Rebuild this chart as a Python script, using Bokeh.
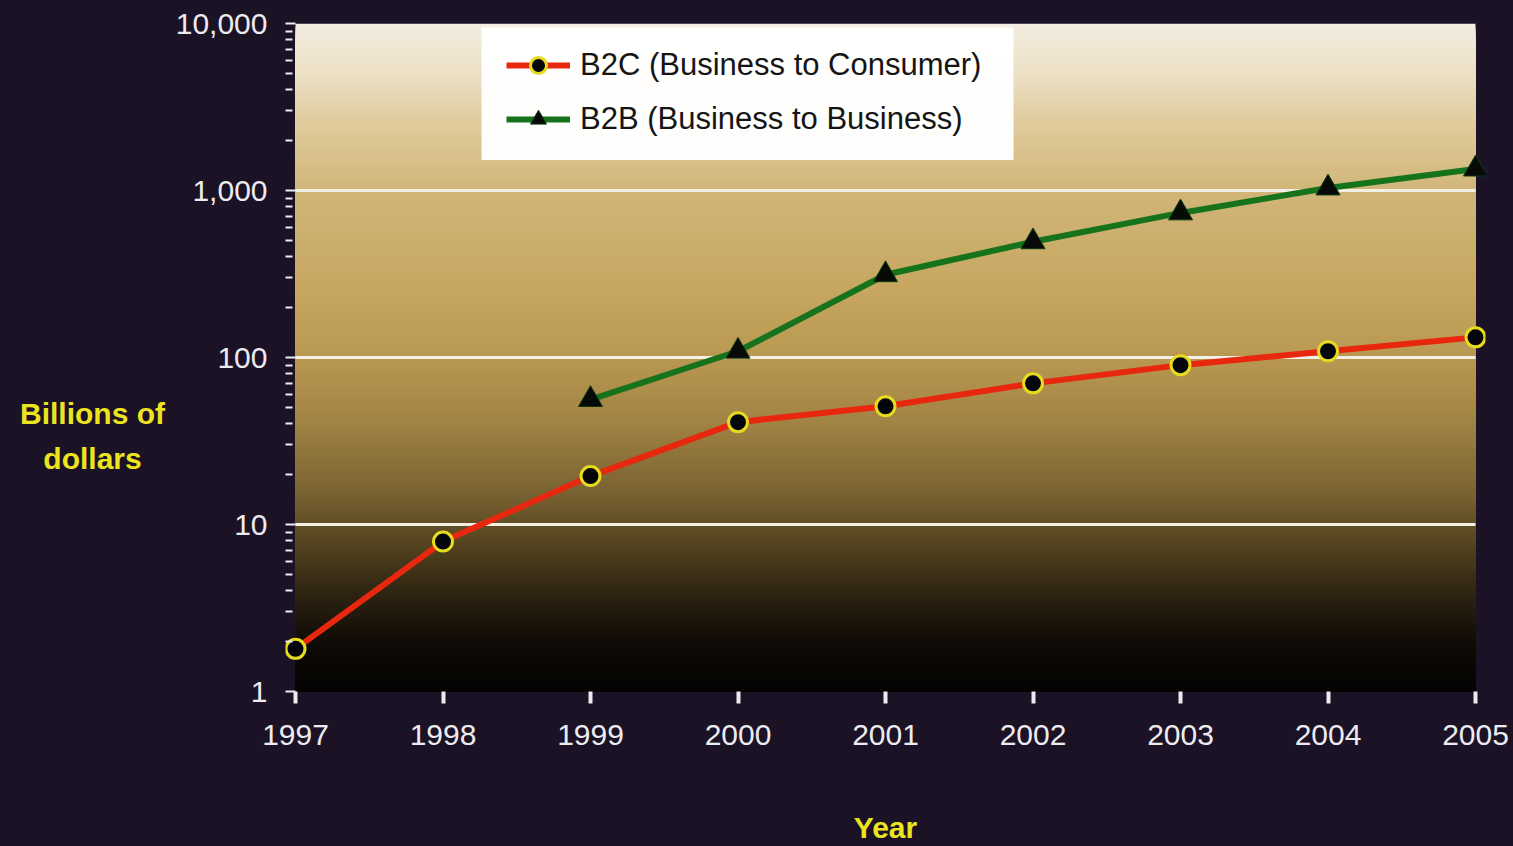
import numpy as np
from bokeh.plotting import figure
from bokeh.layouts import row
from bokeh.models import (Range1d, FixedTicker, NumeralTickFormatter, Legend,
                          LegendItem, BoxAnnotation)
from bokeh.core.properties import value
from bokeh.embed import file_html
from bokeh.resources import INLINE

# ---------------- data ----------------
years = [1997, 1998, 1999, 2000, 2001, 2002, 2003, 2004, 2005]
b2c_years = [1997, 1998, 1999, 2000, 2001, 2002, 2003, 2004, 2005]
b2c_values = [1.8, 7.9, 19.5, 41, 51, 70, 90, 109, 132]
b2b_years = [1999, 2000, 2001, 2002, 2003, 2004, 2005]
b2b_values = [56, 109, 313, 493, 734, 1035, 1344]
y_major = [1, 10, 100, 1000, 10000]
y_grid = [10, 100, 1000]
series_labels = ["B2C (Business to Consumer)", "B2B (Business to Business)"]
y_title_lines = ["Billions of", "dollars"]
x_title = "Year"

# ---------------- layout ----------------
W, H = 1513, 846
SIDE_W = 170                      # left panel holding the y title
FRAME_L, FRAME_R, FRAME_T, FRAME_B = 285, 1485, 23, 693
pad_px = 10
frame_w = FRAME_R - FRAME_L
ext = pad_px * 8 / (frame_w - 2 * pad_px)
x0, x1 = years[0], years[-1]

BG = "#1b1226"
FONT = "Liberation Sans"
YELLOW = "#ece41e"
TICK_COL = "#ebebf0"
BG_STYLE = {"background-color": BG}

# ---------------- left panel with the y title ----------------
side = figure(width=SIDE_W, height=H, output_backend="svg", toolbar_location=None,
              x_range=Range1d(0, SIDE_W), y_range=Range1d(FRAME_B, FRAME_T),
              x_axis_location=None, y_axis_location=None,
              min_border_left=0, min_border_right=0, min_border_top=FRAME_T,
              min_border_bottom=H - FRAME_B, styles=BG_STYLE)
side.background_fill_color = BG
side.border_fill_color = BG
side.outline_line_color = None
side.xgrid.visible = False
side.ygrid.visible = False
side.text(x=[92, 92], y=[414, 459], text=y_title_lines, text_align="center",
          text_baseline="middle", text_font=value(FONT), text_font_style="bold",
          text_font_size="30px", text_color=YELLOW)

# ---------------- main chart ----------------
p = figure(width=W - SIDE_W, height=H, output_backend="svg", toolbar_location=None,
           x_range=Range1d(x0 - ext, x1 + ext), y_range=Range1d(1, 10000),
           y_axis_type="log",
           min_border_left=FRAME_L - SIDE_W, min_border_right=W - FRAME_R,
           min_border_top=FRAME_T, min_border_bottom=H - FRAME_B, styles=BG_STYLE)
p.background_fill_color = BG
p.border_fill_color = BG
p.outline_line_color = None
p.xgrid.visible = False
p.ygrid.visible = False

px_per_year = (frame_w - 2 * pad_px) / 8
px_per_dec = (FRAME_B - FRAME_T) / 4
def dx(px):
    return x0 + (px - (FRAME_L + pad_px)) / px_per_year
def dy(py):
    return 10 ** ((FRAME_B - py) / px_per_dec)

# gradient background of the plot area
stops_f = [0.00, 0.08, 0.15, 0.25, 0.40, 0.50, 0.60, 0.70, 0.78, 0.86, 0.93, 1.00]
stops_c = ["#f4eee2", "#ebdfc2", "#dfcb9c", "#d1b679", "#c6a660", "#b99851",
           "#a08243", "#7a6332", "#54431f", "#2a2110", "#0e0a05", "#040302"]
def hex2rgb(h):
    return np.array([int(h[i:i + 2], 16) for i in (1, 3, 5)], dtype=float)
rgbs = np.array([hex2rgb(c) for c in stops_c])
N = 170
edges = np.linspace(4, 0, N + 1)
tops, cols = [], []
for i in range(N):
    f = (i + 0.5) / N
    rgb = [np.interp(f, stops_f, rgbs[:, k]) for k in range(3)]
    cols.append("#%02x%02x%02x" % tuple(int(round(v)) for v in rgb))
    tops.append(10 ** edges[i])
p.quad(left=x0, right=x1, top=tops, bottom=1, fill_color=cols, line_color=None)

# grid lines
p.segment(x0=[x0] * len(y_grid), x1=[x1] * len(y_grid), y0=y_grid, y1=y_grid,
          line_color="#f4efe4", line_width=3)

# series
RED = "#e8280e"
GREEN = "#17731b"
b2b_line = p.line(b2b_years, b2b_values, line_color=GREEN, line_width=6)
b2b_pts = p.scatter(b2b_years, b2b_values, marker="triangle", size=24,
                    fill_color="#080a08", line_color="#0b3a0e", line_width=1)
b2c_line = p.line(b2c_years, b2c_values, line_color=RED, line_width=6)
b2c_pts = p.scatter(b2c_years, b2c_values, marker="circle", size=19,
                    fill_color="#05050c", line_color="#e6dc1e", line_width=3)

# axes
xa = p.xaxis[0]
xa.ticker = FixedTicker(ticks=years, minor_ticks=[])
xa.major_label_overrides = {y: str(y) for y in years}
xa.axis_line_color = None
xa.major_tick_in = 0
xa.major_tick_out = 12
xa.major_tick_line_width = 4
xa.major_tick_line_color = TICK_COL
xa.major_label_text_font = FONT
xa.major_label_text_font_size = "30px"
xa.major_label_text_color = TICK_COL
xa.major_label_standoff = 21
xa.axis_label = x_title
xa.axis_label_text_font = FONT
xa.axis_label_text_font_style = "bold"
xa.axis_label_text_font_size = "30px"
xa.axis_label_text_color = YELLOW
xa.axis_label_standoff = 63

ya = p.yaxis[0]
minor = [k * 10 ** d for d in range(4) for k in range(2, 10)]
ya.ticker = FixedTicker(ticks=y_major, minor_ticks=minor)
ya.formatter = NumeralTickFormatter(format="0,0")
ya.axis_line_color = None
ya.major_tick_in = 10
ya.major_tick_out = 0
ya.major_tick_line_width = 2
ya.major_tick_line_color = TICK_COL
ya.minor_tick_in = 7
ya.minor_tick_out = 0
ya.minor_tick_line_width = 2
ya.minor_tick_line_color = TICK_COL
ya.major_label_text_font = FONT
ya.major_label_text_font_size = "30px"
ya.major_label_text_color = TICK_COL
ya.major_label_standoff = 18

# legend: white box + items
p.add_layout(BoxAnnotation(left=dx(481), right=dx(1013), top=dy(27), bottom=dy(160),
                           fill_color="white", fill_alpha=0.97, line_color=None))
legend = Legend(items=[LegendItem(label=series_labels[0], renderers=[b2c_line, b2c_pts]),
                       LegendItem(label=series_labels[1], renderers=[b2b_line, b2b_pts])],
                location=(506 - FRAME_L, FRAME_B - 141))
legend.background_fill_alpha = 0
legend.border_line_color = None
legend.padding = 0
legend.margin = 0
legend.label_text_font = FONT
legend.label_text_font_size = "31px"
legend.label_text_color = "#151515"
legend.spacing = 14
legend.label_height = 40
legend.glyph_height = 40
legend.glyph_width = 64
legend.label_standoff = 10
p.add_layout(legend, "center")

layout = row(side, p, spacing=0, styles=BG_STYLE)
open("out.html", "w").write(file_html(layout, INLINE))
